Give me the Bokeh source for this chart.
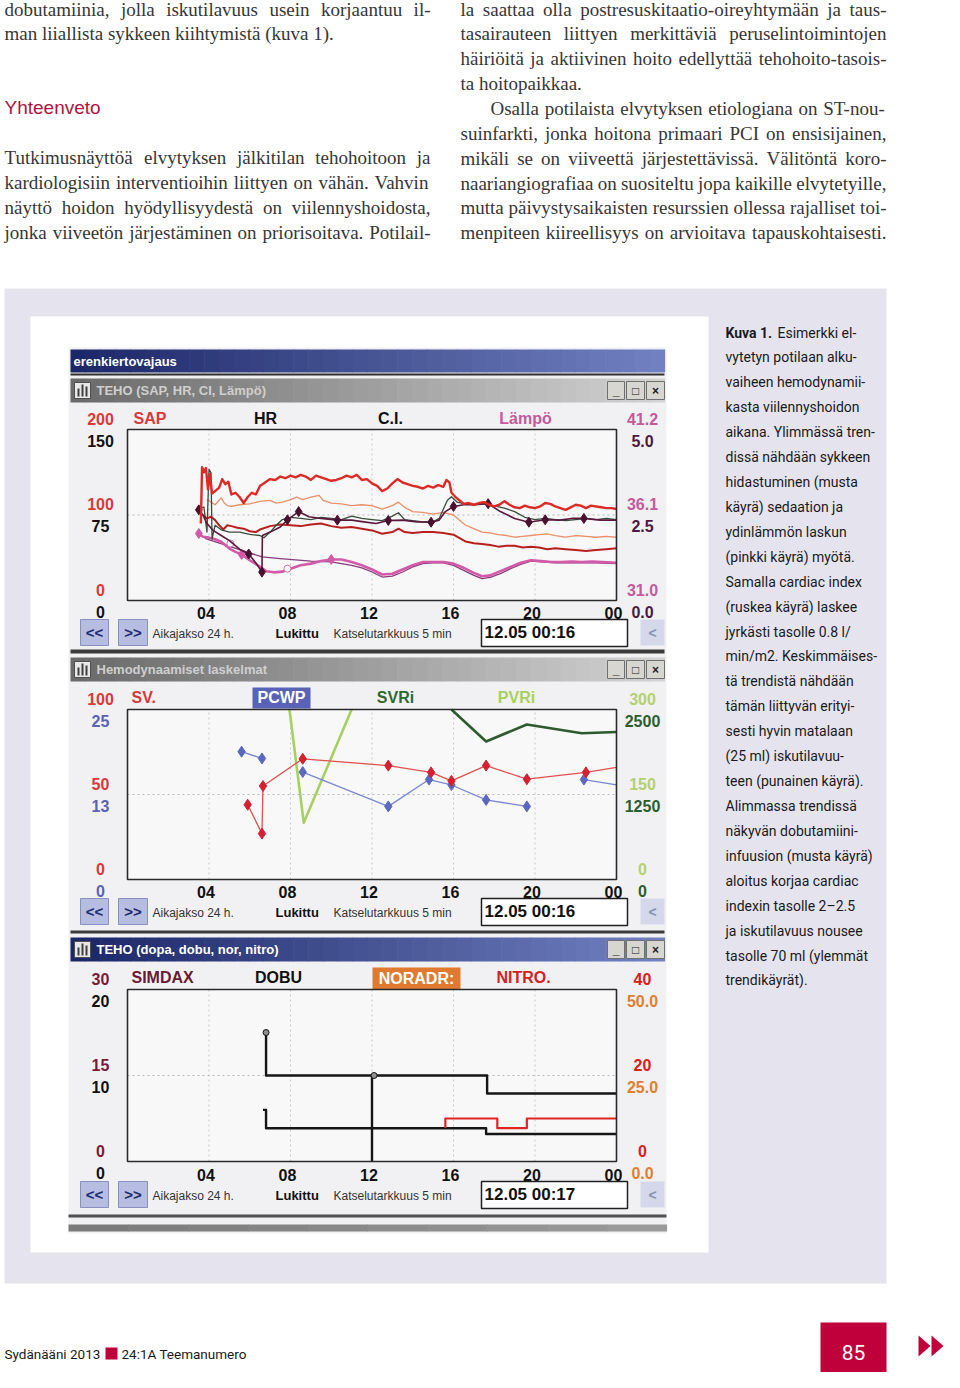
from bokeh.plotting import figure
from bokeh.models import Range1d
from bokeh.core.properties import value
from bokeh.embed import file_html
from bokeh.resources import INLINE

NAN = float("nan")

# ------------------------------------------------------------------ data
tick_hours = [4, 8, 12, 16, 20, 24]
tick_labels = ["04", "08", "12", "16", "20", "00"]
grid_hours = [4, 8, 12, 16, 20]

# Panel 1: TEHO (SAP, HR, CI, Lämpö)
sap_t = [3.60, 3.66, 3.75, 3.85, 3.95, 4.05, 4.15, 4.30, 4.50, 4.65, 4.80, 4.95,
         5.10, 5.30, 5.50, 5.70, 5.90, 6.10, 6.30, 6.50,
         6.75, 7.00, 7.25, 7.50, 7.75, 8.00, 8.25, 8.50, 8.75, 9.00, 9.25, 9.50, 9.75,
         10.0, 10.25, 10.5, 10.75, 11.0, 11.25, 11.5, 11.75, 12.0, 12.25, 12.5, 12.75,
         13.0, 13.25, 13.5, 13.75, 14.0, 14.25, 14.5, 14.75, 15.0, 15.25, 15.5,
         15.65, 15.8, 15.9, 16.1, 16.3, 16.5,
         16.75, 17.0, 17.25, 17.5, 17.75, 18.0, 18.25, 18.5, 18.75, 19.0, 19.25, 19.5,
         19.75, 20.0, 20.25, 20.5, 20.75, 21.0, 21.25, 21.5, 21.75, 22.0, 22.25, 22.5,
         22.75, 23.0, 23.25, 23.5, 23.75, 24.0]
sap_v = [90, 156, 150, 155, 130, 148, 125, 128, 132, 142, 136, 139,
         124, 126, 121, 114, 121, 126, 124, 134,
         138, 142, 141, 145, 143, 146, 144, 147, 145, 141, 146, 144, 142,
         140, 141, 143, 146, 144, 147, 141, 142, 137, 134, 128, 131,
         137, 142, 138, 136, 134, 133, 131, 134, 132, 135, 133,
         141, 138, 126, 121, 117, 113,
         114, 112, 114, 115, 112, 110, 112, 116, 112, 109, 108, 111,
         109, 108, 110, 114, 113, 110, 108, 106, 109, 112, 111, 108,
         111, 110, 109, 108, 108, 107]
map_t = [3.9, 4.3, 4.6, 4.75, 4.9, 5.1, 5.5, 6.0, 6.5, 7.0, 7.3, 7.6, 8.0, 8.3, 8.6,
         9.0, 9.4, 9.6, 10.0, 10.5, 11.0, 11.5, 12.0, 12.5, 13.0, 13.3, 13.6, 14.0,
         14.5, 15.0, 15.5, 16.0, 16.3, 16.6, 17.0, 17.4, 17.8, 18.2, 18.6, 19.0, 19.4,
         19.8, 20.2, 20.6, 21.0, 21.5, 22.0, 22.5, 23.0, 23.5, 24.0]
map_v = [118, 112, 120, 114, 111, 110, 112, 113, 116, 117, 114, 115, 118, 121, 118,
         121, 123, 117, 114, 113, 111, 112, 111, 107, 111, 115, 109, 104,
         103, 101, 103, 100, 94, 88, 84, 80, 79, 77, 76, 74, 75,
         76, 77, 78, 76, 74, 76, 75, 74, 75, 74]
dap_t = [3.7, 3.9, 4.1, 4.3, 4.5, 4.7, 4.9, 5.1, 5.4, 5.7, 6.0, 6.3, 6.5, 7.0, 7.5,
         8.0, 8.5, 9.0, 9.5, 10.0, 10.5, 11.0, 11.5, 12.0, 12.5, 13.0, 13.3, 13.6,
         14.0, 14.5, 15.0, 15.5, 16.0, 16.3, 16.6, 17.0, 17.4, 17.8, 18.2, 18.6,
         19.0, 19.4, 19.8, 20.2, 20.6, 21.0, 21.5, 22.0, 22.5, 23.0, 23.5, 24.0]
dap_v = [100, 96, 98, 94, 88, 83, 88, 87, 85, 84, 81, 80, 83, 87, 89,
         88, 87, 89, 90, 87, 85, 86, 84, 82, 78, 80, 84, 80,
         79, 80, 80, 79, 77, 73, 69, 67, 66, 65, 63, 64,
         64, 62, 63, 62, 60, 61, 60, 59, 58, 59, 60, 61]
hr_t = [3.5, 3.75, 3.9, 4.0, 4.1, 4.15, 4.3, 4.6, 5.0, 5.5, 6.0, 6.5, 6.7, 7.0, 7.3,
        7.6, 8.0, 8.5, 9.0, 9.5, 10.0, 10.5, 11.0, 11.5, 12.0, 12.5, 13.0, 13.3,
        13.6, 14.0, 14.5, 15.0, 15.3, 15.5, 15.7, 15.9, 16.2, 16.6, 17.0, 17.5,
        18.0, 18.5, 19.0, 19.5, 20.0, 20.5, 21.0, 21.5, 22.0, 22.5, 23.0, 23.5, 24.0]
hr_v = [80, 82, 60, 115, 112, 54, 66, 62, 60, 60, 58, 57, 55, 60, 66,
        71, 73, 72, 71, 73, 72, 71, 74, 72, 71, 70, 74, 77,
        71, 70, 69, 69, 72, 80, 88, 91, 86, 85, 84, 85,
        83, 81, 78, 73, 71, 72, 71, 70, 71, 72, 71, 72, 71]
ci_t = [3.5, 3.7, 3.9, 4.2, 4.6, 5.0, 5.5, 5.95, 6.3, 6.6, 6.62, 7.0, 7.5, 7.85, 8.4,
        8.9, 9.5, 10.3, 11.0, 11.6, 12.2, 12.8, 13.5, 14.2, 14.9, 15.3, 15.6, 16.0,
        16.5, 17.0, 17.7, 18.3, 19.0, 19.7, 20.5, 21.2, 21.8, 22.4, 23.2, 24.0]
ci_v = [2.65, 2.5, 2.25, 2.05, 1.9, 1.75, 1.5, 1.36, 1.1, 0.83, 1.9, 2.0, 2.15, 2.36, 2.6,
        2.45, 2.4, 2.35, 2.35, 2.3, 2.25, 2.34, 2.35, 2.3, 2.29, 2.35, 2.6, 2.75,
        2.8, 2.8, 2.83, 2.6, 2.4, 2.29, 2.36, 2.35, 2.4, 2.4, 2.35, 2.35]
ci_meas_t = [3.5, 5.95, 6.6, 7.85, 8.4, 10.3, 12.8, 14.9, 16.0, 17.7, 19.7, 20.5, 22.4]
ci_meas_v = [2.65, 1.36, 0.83, 2.36, 2.6, 2.35, 2.34, 2.29, 2.75, 2.83, 2.29, 2.36, 2.4]
temp_t = [3.5, 3.7, 4.0, 4.3, 4.6, 5.0, 5.3, 5.6, 6.0, 6.4, 6.8, 7.2, 7.6, 8.0, 8.5,
          9.0, 9.5, 10.0, 10.5, 11.0, 11.5, 12.0, 12.5, 13.0, 13.5, 14.0, 14.5, 15.0,
          15.5, 16.0, 16.5, 17.0, 17.4, 17.8, 18.3, 18.8, 19.3, 19.8, 20.3, 20.8,
          21.3, 21.8, 22.3, 22.8, 23.3, 24.0]
temp_v = [35.0, 34.8, 34.75, 34.65, 34.5, 34.1, 33.9, 33.75, 33.4, 33.1, 32.75, 32.68,
          32.72, 32.9, 33.1, 33.2, 33.35, 33.45, 33.45, 33.3, 33.1, 32.85, 32.55, 32.6,
          32.85, 33.1, 33.3, 33.3, 33.3, 33.2, 32.95, 32.65, 32.45, 32.5, 32.75, 33.0,
          33.25, 33.4, 33.35, 33.3, 33.3, 33.32, 33.3, 33.32, 33.3, 33.25]
temp_mark_t = [3.5, 5.6, 10.0]
temp_mark_v = [35.0, 33.75, 33.45]
temp2_t = [3.8, 6.6, 7.5, 9.0, 10.0, 11.0, 11.5, 12.0, 12.5, 13.0, 13.5, 14.0, 14.5,
           15.0, 15.5, 16.0, 16.5, 17.0, 17.4, 17.8, 18.3, 18.8, 19.3, 19.8, 20.3,
           21.0, 22.0, 23.0, 24.0]
temp2_v = [34.7, 33.6, 33.5, 33.35, 33.3, 33.1, 32.95, 32.7, 32.4, 32.45, 32.7, 33.0, 33.2,
           33.25, 33.25, 33.1, 32.8, 32.5, 32.3, 32.38, 32.6, 32.9, 33.15, 33.35, 33.3,
           33.25, 33.25, 33.25, 33.2]
temp2_circ_t = [5.05, 7.85]
temp2_circ_v = [34.4, 32.9]

# Panel 2: Hemodynaamiset laskelmat
sv_t = [5.9, 6.6, 6.65, 8.6, 12.8, 14.9, 15.9, 17.6, 19.6, 22.5, 24.0]
sv_v = [44, 27, 55, 71, 67, 63, 58, 67, 59, 63, 66]
pcwp_t = [5.6, 6.6, NAN, 8.6, 12.8, 14.8, 15.9, 17.6, 19.6, NAN, 22.4, 24.0]
pcwp_v = [18.8, 17.8, NAN, 15.8, 10.75, 14.7, 13.9, 11.7, 10.75, NAN, 14.7, 13.9]
svri_t = [15.9, 17.6, 19.6, 22.3, 24.0]
svri_v = [2500, 2030, 2280, 2150, 2170]
pvri_t = [7.95, 8.65, 11.0]
pvri_v = [300, 100, 300]

# Panel 3: TEHO (dopa, dobu, nor, nitro)
dobu_t = [6.8, 6.8, 17.65, 17.65, 24.0]
dobu_v = [15.0, 10.0, 10.0, 7.9, 7.9]
dobu_mark_t = [6.8, 12.1]
dobu_mark_v = [15.0, 10.0]
dopa_t = [12.0, 12.0]
dopa_v = [10.0, 0.0]
simdax_t = [6.65, 6.8, 6.8, 17.6, 17.6, 24.0]
simdax_v = [9.0, 9.0, 5.8, 5.8, 4.8, 4.8]
nitro_t = [15.6, 15.6, 18.15, 18.15, 19.6, 19.6, 24.0]
nitro_v = [7.8, 10.0, 10.0, 7.75, 7.75, 10.0, 10.0]

# scale labels
p1_left_a = ([200, 100, 0], ["200", "100", "0"])
p1_left_b = ([150, 75, 0], ["150", "75", "0"])
p1_right_a = ([41.2, 36.1, 31.0], ["41.2", "36.1", "31.0"])
p1_right_b = ([5.0, 2.5, 0.0], ["5.0", "2.5", "0.0"])
p2_left_a = ([100, 50, 0], ["100", "50", "0"])
p2_left_b = ([25, 12.5, 0], ["25", "13", "0"])
p2_right_a = ([300, 150, 0], ["300", "150", "0"])
p2_right_b = ([2500, 1250, 0], ["2500", "1250", "0"])
p3_left_a = ([30, 15, 0], ["30", "15", "0"])
p3_left_b = ([20, 10, 0], ["20", "10", "0"])
p3_right_a = ([40, 20, 0], ["40", "20", "0"])
p3_right_b = ([50.0, 25.0, 0.0], ["50.0", "25.0", "0.0"])

# ------------------------------------------------------------------ texts
left_col_top = ["dobutamiinia, jolla iskutilavuus usein korjaantuu il-",
                "man liiallista sykkeen kiihtymistä (kuva 1)."]
heading = "Yhteenveto"
left_col_par = ["Tutkimusnäyttöä elvytyksen jälkitilan tehohoitoon ja",
                "kardiologisiin interventioihin liittyen on vähän. Vahvin",
                "näyttö hoidon hyödyllisyydestä on viilennyshoidosta,",
                "jonka viiveetön järjestäminen on priorisoitava. Potilail-"]
right_col = ["la saattaa olla postresuskitaatio-oireyhtymään ja taus-",
             "tasairauteen liittyen merkittäviä peruselintoimintojen",
             "häiriöitä ja aktiivinen hoito edellyttää tehohoito-tasois-",
             "ta hoitopaikkaa.",
             "Osalla potilaista elvytyksen etiologiana on ST-nou-",
             "suinfarkti, jonka hoitona primaari PCI on ensisijainen,",
             "mikäli se on viiveettä järjestettävissä. Välitöntä koro-",
             "naariangiografiaa on suositeltu jopa kaikille elvytetyille,",
             "mutta päivystysaikaisten resurssien ollessa rajalliset toi-",
             "menpiteen kiireellisyys on arvioitava tapauskohtaisesti."]
caption_lines = ["Esimerkki el-", "vytetyn potilaan alku-", "vaiheen hemodynamii-",
                 "kasta viilennyshoidon", "aikana. Ylimmässä tren-", "dissä nähdään sykkeen",
                 "hidastuminen (musta", "käyrä) sedaation ja", "ydinlämmön laskun",
                 "(pinkki käyrä) myötä.", "Samalla cardiac index", "(ruskea käyrä) laskee",
                 "jyrkästi tasolle 0.8 l/", "min/m2. Keskimmäises-", "tä trendistä nähdään",
                 "tämän liittyvän erityi-", "sesti hyvin matalaan", "(25 ml) iskutilavuu-",
                 "teen (punainen käyrä).", "Alimmassa trendissä", "näkyvän dobutamiini-",
                 "infuusion (musta käyrä)", "aloitus korjaa cardiac", "indexin tasolle 2–2.5",
                 "ja iskutilavuus nousee", "tasolle 70 ml (ylemmät", "trendikäyrät)."]

# ------------------------------------------------------------------ figure
SANS = "Liberation Sans"
SERIF = "Liberation Serif"
COND = "Roboto"

X0, X1, Y0, Y1 = 0, 944, 0, 1372
p = figure(width=X1 - X0, height=Y1 - Y0, x_range=Range1d(X0, X1), y_range=Range1d(Y1, Y0),
           output_backend="svg", toolbar_location=None, min_border=0,
           x_axis_type=None, y_axis_type=None)
p.grid.visible = False
p.outline_line_color = None
p.background_fill_color = "white"
p.border_fill_color = "white"

BOX_L, BOX_R = 127, 616          # pixel columns of the 0h / 24h edges
PANELS = {1: (429, 600), 2: (709, 879), 3: (989, 1161)}


def t_range(t0, t1):
    f = lambda x: t0 + (x - BOX_L) / (BOX_R - BOX_L) * (t1 - t0)
    return Range1d(f(X0), f(X1))


def v_range(panel, vmin, vmax):
    top, bot = PANELS[panel]
    f = lambda y: vmin + (bot - y) / (bot - top) * (vmax - vmin)
    return Range1d(f(Y1), f(Y0))


p.extra_x_ranges = {"t": t_range(0, 24)}
p.extra_y_ranges = {
    "sap": v_range(1, 0, 200), "hr": v_range(1, 0, 150), "ci": v_range(1, 0, 5),
    "temp": v_range(1, 31.0, 41.2),
    "sv": v_range(2, 0, 100), "pcwp": v_range(2, 0, 25), "svri": v_range(2, 0, 2500),
    "pvri": v_range(2, 0, 300),
    "simdax": v_range(3, 0, 30), "dobu": v_range(3, 0, 20), "nitro": v_range(3, 0, 40),
    "nor": v_range(3, 0, 50),
}


def hex2rgb(h):
    h = h.lstrip("#")
    return tuple(int(h[i:i + 2], 16) for i in (0, 2, 4))


def mix(c0, c1, f):
    a, b = hex2rgb(c0), hex2rgb(c1)
    return "#%02x%02x%02x" % tuple(int(round(a[i] + (b[i] - a[i]) * f)) for i in range(3))


def rect(x0, x1, y0, y1, fill, line=None, lw=1):
    p.quad(left=[x0], right=[x1], top=[y0], bottom=[y1], fill_color=fill,
           line_color=line, line_width=lw)


def gradient_bar(x0, x1, y0, y1, c0, c1, n=40):
    w = (x1 - x0) / n
    lefts = [x0 + i * w for i in range(n)]
    rights = [l + w + 0.6 for l in lefts]
    cols = [mix(c0, c1, i / (n - 1)) for i in range(n)]
    p.quad(left=lefts, right=rights, top=[y0] * n, bottom=[y1] * n,
           fill_color=cols, line_color=None)


def txt(x, y, s, size, color, font=SANS, style="normal", align="left", baseline="middle"):
    p.text(x=[x], y=[y], text=[s], text_font=value(font), text_font_size=f"{size}px",
           text_font_style=style, text_color=color, text_align=align,
           text_baseline=baseline)


def txt_lines(x, ys, lines, size, color, font, style="normal"):
    p.text(x=[x] * len(lines), y=ys, text=lines, text_font=value(font),
           text_font_size=f"{size}px", text_font_style=style, text_color=color,
           text_align="left", text_baseline="middle")


# Times-compatible advance widths (1/1000 em) for justified serif text
_W = {" ": 250, ",": 250, ".": 250, "-": 333, "(": 333, ")": 333, ":": 278, "/": 278,
      "A": 722, "C": 667, "I": 333, "O": 722, "P": 556, "S": 556, "T": 611, "V": 722,
      "Y": 722, "a": 444, "b": 500, "c": 444, "d": 500, "e": 444, "f": 333, "g": 500,
      "h": 500, "i": 278, "j": 278, "k": 500, "l": 278, "m": 778, "n": 500, "o": 500,
      "p": 500, "q": 500, "r": 333, "s": 389, "t": 278, "u": 500, "v": 500, "w": 722,
      "x": 500, "y": 500, "z": 444, "ä": 444, "ö": 500, "å": 444}


def wwidth(word, size):
    return sum(_W.get(ch, 500) for ch in word) * size / 1000.0


def justified(x0, x1, ys, lines, flags, size, color):
    xs, yy, words_all = [], [], []
    for line, y, just in zip(lines, ys, flags):
        words = line.split(" ")
        widths = [wwidth(w, size) for w in words]
        if just and len(words) > 1:
            gap = (x1 - x0 - sum(widths)) / (len(words) - 1)
        else:
            gap = 0.25 * size
        x = x0
        for w, ww in zip(words, widths):
            xs.append(x)
            yy.append(y)
            words_all.append(w)
            x += ww + gap
    p.text(x=xs, y=yy, text=words_all, text_font=value(SERIF), text_font_size=f"{size}px",
           text_color=color, text_align="left", text_baseline="middle")


# ------------------------------------------------------------------ top body text
BODY = "#363636"
FS = 19
justified(4, 430, [9, 33], left_col_top, [True, False], FS, BODY)
txt(4, 107, heading, 19, "#b0123e", SANS)
justified(4, 430, [157, 182, 207, 232], left_col_par, [True] * 4, FS, BODY)
justified(460, 886, [9, 33, 58, 83], right_col[:4], [True, True, True, False], FS, BODY)
justified(490, 886, [108], right_col[4:5], [True], FS, BODY)
justified(460, 886, [133, 158, 183, 207, 232], right_col[5:], [True] * 5, FS, BODY)

# ------------------------------------------------------------------ figure box
rect(4, 886, 288, 1283, "#e5e4ee")
rect(30, 708, 316, 1252, "white")
rect(68, 666, 347, 1233, "#f1f1f3")

cap_y = [332 + i * 24.92 for i in range(len(caption_lines))]
txt(725, cap_y[0], "Kuva 1.", 14, "#1a1a1a", COND, "bold")
txt(777, cap_y[0], caption_lines[0], 14, "#1a1a1a", COND)
txt_lines(725, cap_y[1:], caption_lines[1:], 14, "#1a1a1a", COND)

# footer
txt(4, 1353, "Sydänääni 2013", 13.5, "#1a1a1a", COND)
rect(105, 117, 1347, 1359, "#c0003a")
txt(121, 1353, "24:1A Teemanumero", 13.5, "#1a1a1a", COND)
rect(820, 886, 1322, 1388, "#c0003a")
txt(853, 1352, "85", 21, "white", COND, align="center")
p.patches(xs=[[918, 930, 918], [931, 943, 931]], ys=[[1335, 1345.5, 1356], [1335, 1345.5, 1356]],
          fill_color="#c0003a", line_color=None)

# ------------------------------------------------------------------ screenshot chrome
NAVY0, NAVY1 = "#1c2768", "#7080c0"
GRAY0, GRAY1 = "#6a6a6a", "#d2d2d2"


def window_buttons(yc):
    for (a, b, s) in [(607, 624, "_"), (626, 644, "□"), (646, 664, "×")]:
        rect(a, b, yc - 9, yc + 9, "#d8d6d0", "#707070", 1)
        txt((a + b) / 2, yc, s, 12, "#202020", SANS, "bold", "center")


def icon(yc):
    rect(74, 90, yc - 8, yc + 8, "#e8e8e8", "#505050", 1)
    p.quad(left=[77, 81, 85], right=[79, 83, 87], top=[yc - 2, yc - 6, yc - 4],
           bottom=[yc + 6] * 3, fill_color="#404040", line_color=None)


# panel 1 title bars
gradient_bar(70, 664, 349, 372, NAVY0, NAVY1)
txt(73, 361, "erenkiertovajaus", 13, "white", SANS, "bold")
rect(70, 664, 373, 375, "#303030")
gradient_bar(70, 664, 378, 402, GRAY0, GRAY1)
icon(390)
txt(96, 390, "TEHO (SAP, HR, CI, Lämpö)", 13, "#cfcfcf", SANS, "bold")
window_buttons(390)

# panel 2 title bars
rect(70, 664, 649, 653, "#3a3a3a")
gradient_bar(70, 664, 657, 681, GRAY0, GRAY1)
icon(669)
txt(96, 669, "Hemodynaamiset laskelmat", 13, "#cfcfcf", SANS, "bold")
window_buttons(669)

# panel 3 title bars
rect(70, 664, 930, 933, "#3a3a3a")
gradient_bar(70, 664, 937, 961, NAVY0, NAVY1)
icon(949)
txt(96, 949, "TEHO (dopa, dobu, nor, nitro)", 13, "white", SANS, "bold")
window_buttons(949)

# bottom stripes
rect(68, 666, 1214, 1217, "#505050")
gradient_bar(68, 666, 1224, 1231, "#7a7a7a", "#9a9a9a", 10)


def bottom_row(yc, stamp):
    rect(80, 108, yc - 13, yc + 13, "#b6bde0", "#8890c0", 1)
    txt(94, yc, "<<", 15, "#1c2a70", SANS, "bold", "center")
    rect(118, 147, yc - 13, yc + 13, "#b6bde0", "#8890c0", 1)
    txt(132.5, yc, ">>", 15, "#1c2a70", SANS, "bold", "center")
    txt(152, yc + 1, "Aikajakso 24 h.", 12, "#333333", SANS)
    txt(275, yc + 1, "Lukittu", 13, "#111111", SANS, "bold")
    txt(333, yc + 1, "Katselutarkkuus 5 min", 12, "#333333", SANS)
    rect(481, 627, yc - 13, yc + 14, "white", "#202020", 1.5)
    txt(484, yc, stamp, 17, "#111111", SANS, "bold")
    rect(640, 664, yc - 13, yc + 13, "#d4d8ea", None)
    txt(652, yc, "<", 14, "#8890b0", SANS, "bold", "center")


bottom_row(632, "12.05 00:16")
bottom_row(911, "12.05 00:16")
bottom_row(1194, "12.05 00:17")


# ------------------------------------------------------------------ plot boxes, grids, ticks
def plot_box(rn, vmax, mid, tick_y):
    p.quad(left=[0], right=[24], bottom=[0], top=[vmax], x_range_name="t", y_range_name=rn,
           fill_color="#f8f8f8", line_color=None)
    p.segment(x0=grid_hours, x1=grid_hours, y0=[0] * len(grid_hours), y1=[vmax] * len(grid_hours),
              x_range_name="t", y_range_name=rn, line_color="#c8c8c8", line_width=1,
              line_dash="2 3")
    p.segment(x0=[0], x1=[24], y0=[mid], y1=[mid], x_range_name="t", y_range_name=rn,
              line_color="#b8b8b8", line_width=1, line_dash="2 3")
    p.text(x=tick_hours, y=[tick_y] * len(tick_hours), text=tick_labels, x_range_name="t",
           x_offset=-3, text_font=value(SANS), text_font_size="16px", text_font_style="bold",
           text_color="#111111", text_align="center", text_baseline="middle")


def box_frame(rn, vmax):
    p.quad(left=[0], right=[24], bottom=[0], top=[vmax], x_range_name="t", y_range_name=rn,
           fill_color=None, line_color="#2a2a2a", line_width=1.6)


def scale(rn, vals_lbls, x, color, dy):
    vals, lbls = vals_lbls
    p.text(x=[x] * len(vals), y=vals, text=lbls, y_range_name=rn, y_offset=dy,
           text_font=value(SANS), text_font_size="16px", text_font_style="bold",
           text_color=color, text_align="center", text_baseline="middle")


plot_box("sap", 200, 100, 612)
plot_box("sv", 100, 50, 891)
plot_box("simdax", 30, 15, 1174)

LX, RX = 100, 642
# panel 1 scale labels and headers
scale("sap", p1_left_a, LX, "#d83a3a", -11)
scale("hr", p1_left_b, LX, "#111111", 11)
scale("temp", p1_right_a, RX, "#c45a9c", -11)
scale("ci", p1_right_b, RX, "#4a1a40", 11)
txt(133, 418, "SAP", 16, "#d83a3a", SANS, "bold")
txt(265, 418, "HR", 16, "#111111", SANS, "bold", "center")
txt(390, 418, "C.I.", 16, "#111111", SANS, "bold", "center")
txt(525, 418, "Lämpö", 16, "#c45a9c", SANS, "bold", "center")

# panel 2
scale("sv", p2_left_a, LX, "#d83a3a", -11)
scale("pcwp", p2_left_b, LX, "#5a62b8", 11)
scale("pvri", p2_right_a, RX, "#b4d070", -11)
scale("svri", p2_right_b, RX, "#2e5e2e", 11)
txt(131, 697, "SV.", 16, "#d83a3a", SANS, "bold")
rect(252, 310, 687, 708, "#5a62b8")
txt(281, 697, "PCWP", 16, "white", SANS, "bold", "center")
txt(395, 697, "SVRi", 16, "#2e6a2e", SANS, "bold", "center")
txt(516, 697, "PVRi", 16, "#a8d060", SANS, "bold", "center")

# panel 3
scale("simdax", p3_left_a, LX, "#7a1a3a", -11)
scale("dobu", p3_left_b, LX, "#111111", 11)
scale("nitro", p3_right_a, RX, "#d82020", -11)
scale("nor", p3_right_b, RX, "#e08030", 11)
txt(131, 977, "SIMDAX", 16, "#6a1a30", SANS, "bold")
txt(278, 977, "DOBU", 16, "#111111", SANS, "bold", "center")
rect(372, 460, 967, 989, "#e07a30")
txt(416, 978, "NORADR:", 16, "white", SANS, "bold", "center")
txt(523, 977, "NITRO.", 16, "#d82020", SANS, "bold", "center")


# ------------------------------------------------------------------ series
def line(t, v, rn, color, w, **kw):
    p.line(x=t, y=v, x_range_name="t", y_range_name=rn, line_color=color, line_width=w,
           line_join="round", **kw)


def marks(t, v, rn, color, size, marker="diamond", fill=None):
    p.scatter(x=t, y=v, x_range_name="t", y_range_name=rn, marker=marker, size=size,
              fill_color=fill if fill is not None else color, line_color=color)


# panel 1
line(temp2_t, temp2_v, "temp", "#8a3d7e", 1.3)
line(temp_t, temp_v, "temp", "#d25aa8", 2.6)
marks(temp_mark_t, temp_mark_v, "temp", "#d25aa8", 10)
marks(temp2_circ_t, temp2_circ_v, "temp", "#d070b0", 7, "circle", "white")
line(map_t, map_v, "sap", "#e8906c", 1.3)
line(dap_t, dap_v, "sap", "#b82020", 2.0)
line(hr_t, hr_v, "hr", "#3a4a3c", 1.3)
line(ci_t, ci_v, "ci", "#5a1a3c", 1.6)
marks(ci_meas_t, ci_meas_v, "ci", "#4a1030", 10)
line(sap_t, sap_v, "sap", "#dc2a26", 2.4)

# panel 2
line(svri_t, svri_v, "svri", "#2e5a2e", 2.6)
line(pvri_t, pvri_v, "pvri", "#a8d060", 2.6)
line(pcwp_t, pcwp_v, "pcwp", "#7a86d0", 1.3)
marks([t for t in pcwp_t if t == t][:-1], [v for v in pcwp_v if v == v][:-1], "pcwp", "#5a68c0", 11)
line(sv_t, sv_v, "sv", "#e05050", 1.3)
marks(sv_t[:-1], sv_v[:-1], "sv", "#d42030", 11)

# panel 3
line(dopa_t, dopa_v, "dobu", "#151515", 2.4)
line(simdax_t, simdax_v, "simdax", "#151515", 2.4)
line(dobu_t, dobu_v, "dobu", "#151515", 2.4)
marks(dobu_mark_t, dobu_mark_v, "dobu", "#151515", 6, "circle", "#909090")
line(nitro_t, nitro_v, "nitro", "#e02424", 2.2)

box_frame("sap", 200)
box_frame("sv", 100)
box_frame("simdax", 30)

open("out.html", "w").write(file_html(p, INLINE))
